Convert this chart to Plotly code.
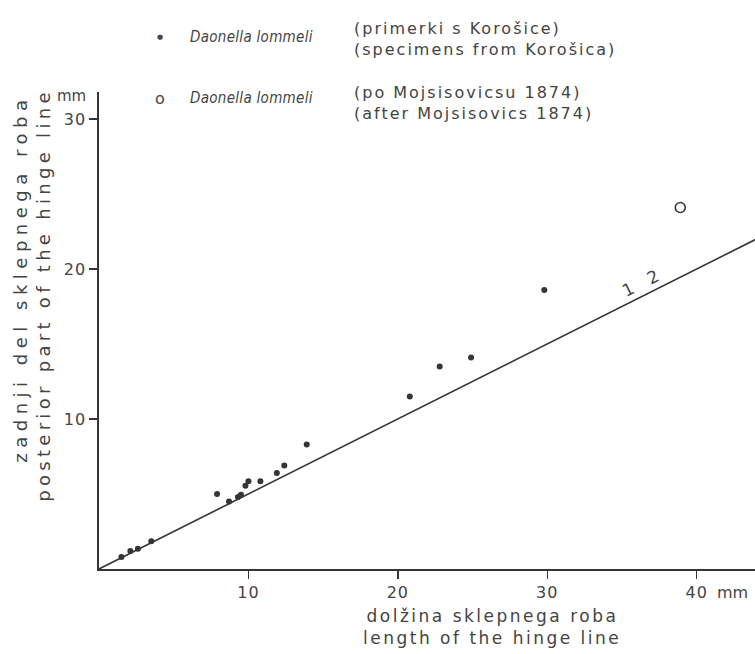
import json
import plotly.graph_objects as go

# Daonella lommeli - specimens from Korošica (filled dots)
korosica_x = [1.5, 2.1, 2.6, 3.5, 7.9, 8.7, 9.3, 9.5, 9.8, 10.0, 10.8, 11.9, 12.4, 13.9, 20.8, 22.8, 24.9, 29.8]
korosica_y = [0.8, 1.2, 1.35, 1.85, 5.0, 4.5, 4.8, 4.95, 5.55, 5.85, 5.85, 6.4, 6.9, 8.3, 11.5, 13.5, 14.1, 18.6]

# Daonella lommeli - after Mojsisovics 1874 (open circle)
mojs_x = [38.9]
mojs_y = [24.1]

# reference line 1:2
line_x = [0, 44]
line_y = [0, 22]

x_ticks = [10, 20, 30, 40]
x_ticklabels = ["10", "20", "30", "40"]
y_ticks = [10, 20, 30]
y_ticklabels = ["10", "20", "30"]

INK = "#353535"
TXT = "#444444"
FONT = "DejaVu Sans"
NARROW = "Liberation Sans Narrow, DejaVu Sans Condensed, Liberation Sans"

fig = go.Figure()
fig.add_trace(go.Scatter(x=line_x, y=line_y, mode="lines",
                         line=dict(color=INK, width=1.6), hoverinfo="skip"))
fig.add_trace(go.Scatter(x=korosica_x, y=korosica_y, mode="markers",
                         marker=dict(color=INK, size=6, line=dict(width=0))))
fig.add_trace(go.Scatter(x=mojs_x, y=mojs_y, mode="markers",
                         marker=dict(symbol="circle-open", color=INK, size=10,
                                     line=dict(width=1.6, color=INK))))

fig.update_layout(
    width=755, height=654,
    margin=dict(l=99, r=0, t=92, b=85),
    paper_bgcolor="white", plot_bgcolor="white",
    showlegend=False,
    font=dict(family=FONT, color=TXT, size=16),
    xaxis=dict(range=[0, 43.9], showgrid=False, zeroline=False,
               showline=True, linecolor=INK, linewidth=1.6,
               ticks="outside", ticklen=8, tickwidth=1.3, tickcolor=INK,
               tickvals=x_ticks, ticktext=x_ticklabels,
               tickfont=dict(family=FONT, size=16, color=TXT)),
    yaxis=dict(range=[0, 31.8], showgrid=False, zeroline=False,
               showline=True, linecolor=INK, linewidth=1.6,
               ticks="outside", ticklen=8, tickwidth=1.3, tickcolor=INK,
               tickvals=y_ticks, ticktext=y_ticklabels,
               tickfont=dict(family=FONT, size=16, color=TXT)),
)


def px_x(p):
    return (p - 99) / 656


def px_y(p):
    return (569 - p) / 477


ann = []
spacing = []


def add(sp=0, **kw):
    kw.setdefault("showarrow", False)
    ann.append(kw)
    spacing.append(sp)


# unit labels
add(xref="paper", yref="paper", x=px_x(715), y=px_y(592), text="mm",
    xanchor="left", yanchor="middle", align="left", font=dict(size=16))
add(xref="paper", yref="paper", x=px_x(71), y=px_y(96), text="mm",
    xanchor="center", yanchor="middle", font=dict(size=15))

# axis titles (two lines)
add(xref="x", yref="paper", x=26.3, y=px_y(616), text="dolžina sklepnega roba",
    xanchor="center", yanchor="middle", font=dict(size=17), sp=2.5)
add(xref="x", yref="paper", x=26.3, y=px_y(638), text="length of the hinge line",
    xanchor="center", yanchor="middle", font=dict(size=17), sp=2.5)
add(xref="paper", yref="paper", x=px_x(20), y=px_y(279), text="zadnji del sklepnega roba",
    textangle=-90, xanchor="center", yanchor="middle", font=dict(size=18), sp=5.5)
add(xref="paper", yref="paper", x=px_x(43), y=px_y(295), text="posterior part of the hinge line",
    textangle=-90, xanchor="center", yanchor="middle", font=dict(size=18), sp=4.3)

# 1:2 line label
add(xref="x", yref="y", x=36.25, y=19.1, text="1  2", textangle=-26.6,
    xanchor="center", yanchor="middle", font=dict(size=17), sp=2)

# legend
legend_rows = [
    ("●", 37, "(primerki s Korošice)", "(specimens from Korošica)", 28, 49),
    ("o", 98, "(po Mojsisovicsu 1874)", "(after Mojsisovics 1874)", 92, 113),
]
for sym, ys, l1, l2, y1, y2 in legend_rows:
    add(xref="paper", yref="paper", x=px_x(160), y=px_y(ys), text=sym,
        xanchor="center", yanchor="middle", font=dict(size=7 if sym == "●" else 16))
    add(xref="paper", yref="paper", x=px_x(188), y=px_y(ys),
        text="<i>Daonella lommeli</i>", xanchor="left", yanchor="middle", align="left",
        font=dict(size=15, family=NARROW), sp=0.3)
    add(xref="paper", yref="paper", x=px_x(352), y=px_y(y1), text=l1,
        xanchor="left", yanchor="middle", align="left", font=dict(size=16), sp=2)
    add(xref="paper", yref="paper", x=px_x(352), y=px_y(y2), text=l2,
        xanchor="left", yanchor="middle", align="left", font=dict(size=16), sp=2)

fig.update_layout(annotations=ann)

post = """
document.body.style.margin = '0';
document.body.style.padding = '0';
var gd = document.getElementById('{plot_id}');
var sp = %s;
function applySpacing() {
  gd.querySelectorAll('g.annotation').forEach(function (g) {
    var i = +g.getAttribute('data-index');
    var t = g.querySelector('text');
    if (t && sp[i]) { t.setAttribute('letter-spacing', sp[i] + 'px'); }
  });
  gd.querySelectorAll('g.xtick text, g.ytick text').forEach(function (t) {
    t.setAttribute('letter-spacing', '1px');
  });
}
applySpacing();
gd.on && gd.on('plotly_afterplot', applySpacing);
""" % json.dumps(spacing)

fig.write_html("out.html", post_script=post,
               config={"displayModeBar": False, "staticPlot": True})
